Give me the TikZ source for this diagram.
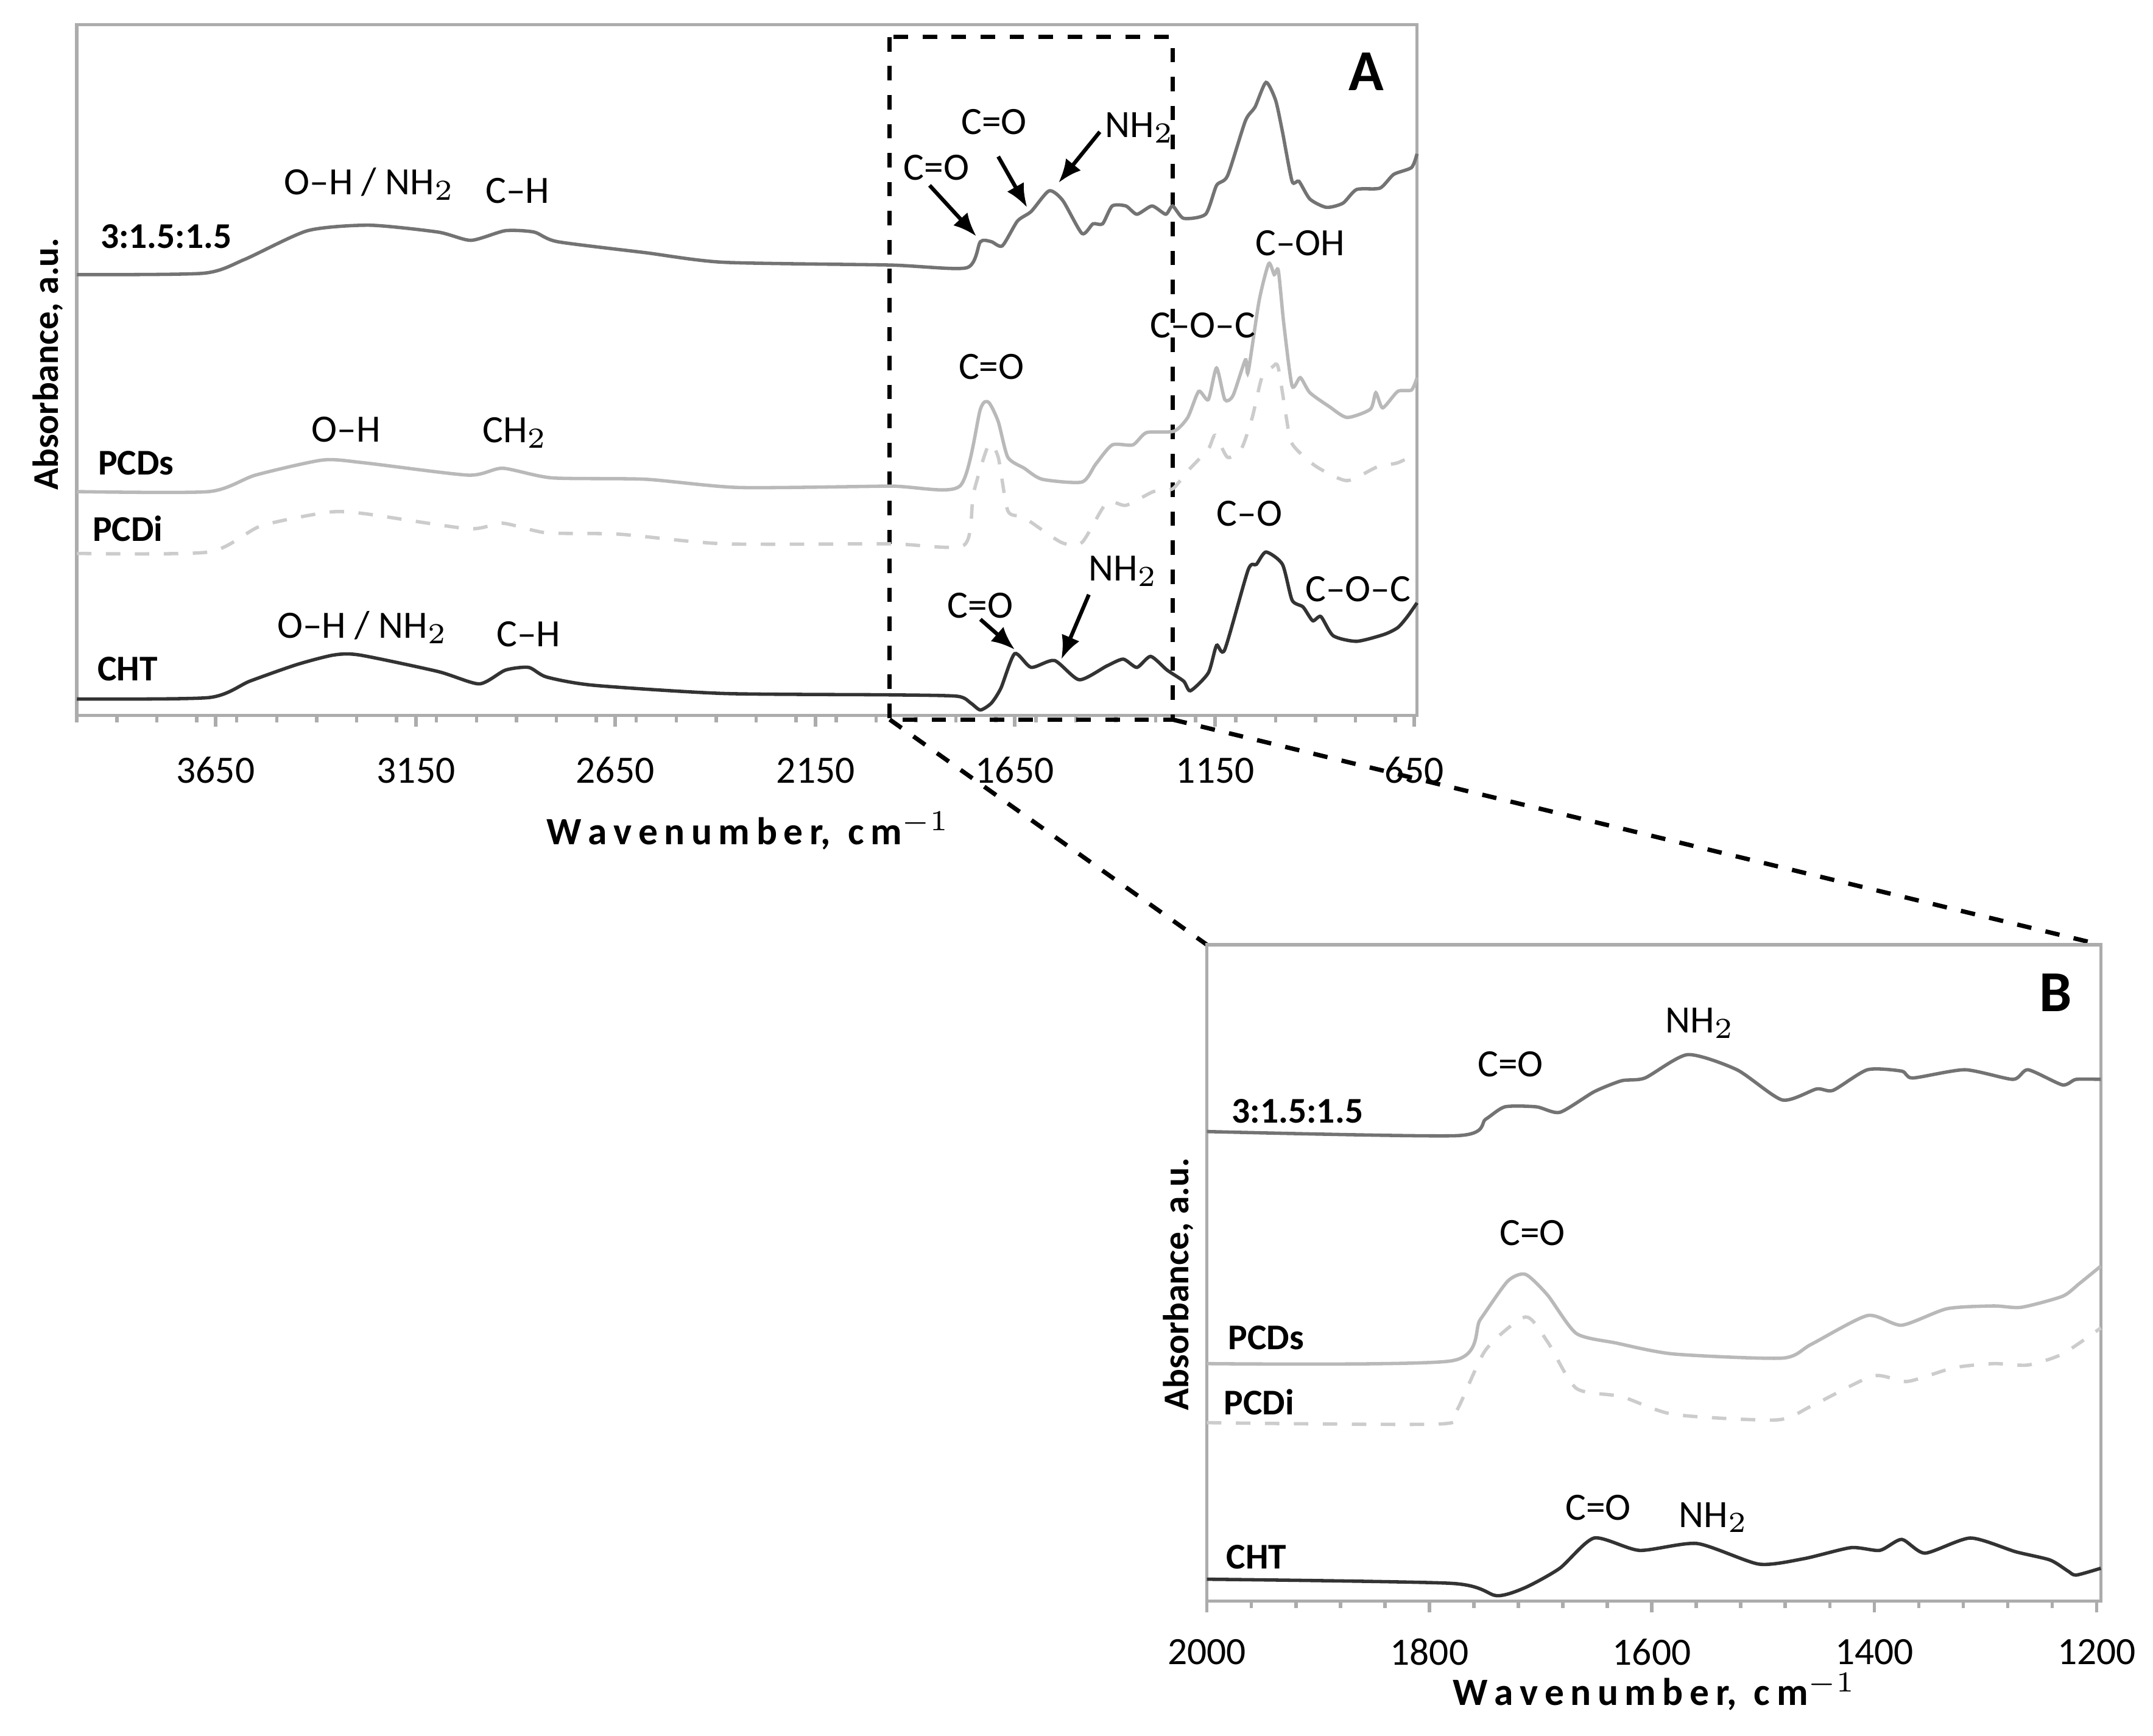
\documentclass[tikz,border=0pt]{standalone}
\usepackage{fontspec}
\setmainfont{Carlito}
\usetikzlibrary{arrows.meta}
\begin{document}
\begin{tikzpicture}[x=0.01cm,y=-0.01cm,
 lab/.style={font=\fontsize{8}{9}\selectfont},
 nm/.style={font=\bfseries\fontsize{7.5}{8}\selectfont},
 tk/.style={font=\fontsize{8}{9}\selectfont},
 frm/.style={draw=gray!65,line width=0.7pt},
 cA/.style={line width=0.7pt,gray!90!black,smooth,tension=0.4},
 cS/.style={line width=0.7pt,gray!55,smooth,tension=0.4},
 cI/.style={line width=0.7pt,gray!40,dashed,smooth,tension=0.4},
 cC/.style={line width=0.7pt,black!80,smooth,tension=0.4},
 arr/.style={-{Latex[length=1.7mm,width=1.4mm]},line width=0.8pt},
 zl/.style={dashed,line width=0.9pt}]
\useasboundingbox (0,0) rectangle (1568,1264);
% Panel A
\draw[frm] (56,18) rectangle (1032,521);
\foreach \i in {0,...,33}{\draw[gray!65,line width=0.7pt] ({56+\i*29.1},521)--++(0,5);}
\foreach \x/\t in {157/3650,303/3150,448/2650,594/2150,739/1650,885/1150,1030/650}{
 \draw[gray!65,line width=0.7pt] (\x,521)--(\x,529);
 \node[tk] (ta\t) at (\x,561) {\t};}
\draw[zl] (648,27) rectangle (854,524);
\draw[cA] plot coordinates {(56,200)(148,199)(178,189)(224,168)(269,164)(319,169)(343,175)(368,168)(389,169)(406,176)(470,184)(527,191)(648,193)(704,195)(714,176)(722,176)(730,179)(741,161)(751,154)(764,139)(774,146)(788,170)(796,163)(803,163)(810,150)(820,150)(828,156)(839,150)(849,156)(854,150)(862,159)(878,156)(886,135)(894,128)(907,88)(914,78)(922,60)(929,73)(934,96)(941,132)(946,132)(954,145)(966,151)(978,148)(988,138)(1005,137)(1015,127)(1028,122)(1032,112)};
\draw[cS] plot coordinates {(56,358)(152,358)(186,346)(235,335)(265,337)(341,346)(366,341)(402,348)(470,349)(538,355)(648,354)(699,354)(714,298)(720,293)(727,307)(734,333)(746,341)(759,349)(788,351)(798,338)(810,324)(825,324)(835,315)(855,314)(865,304)(873,285)(880,291)(886,268)(892,291)(898,288)(907,262)(909,271)(917,219)(924,192)(928,200)(931,197)(935,236)(941,281)(947,275)(954,286)(968,296)(981,304)(998,298)(1002,286)(1007,297)(1018,285)(1028,284)(1032,275)};
\draw[cI] plot coordinates {(56,403)(152,402)(190,383)(239,373)(265,374)(341,385)(366,381)(398,388)(451,389)(527,396)(648,396)(702,397)(709,359)(720,324)(727,333)(734,372)(746,377)(773,395)(788,395)(806,366)(820,368)(840,358)(854,356)(865,343)(880,327)(885,317)(894,333)(904,327)(912,304)(919,275)(927,267)(931,268)(939,317)(944,327)(959,340)(981,350)(1003,340)(1018,337)(1032,330)};
\draw[cC] plot coordinates {(56,509)(152,508)(182,496)(216,484)(243,477)(262,477)(319,489)(349,498)(368,488)(385,486)(398,493)(432,499)(527,505)(648,506)(697,507)(707,512)(714,517)(722,512)(729,501)(739,476)(751,486)(768,481)(786,495)(806,485)(818,480)(828,486)(838,478)(850,488)(862,496)(867,503)(880,490)(886,470)(892,473)(909,415)(915,411)(922,402)(934,411)(941,437)(949,442)(956,452)(962,449)(971,463)(988,467)(1008,462)(1018,457)(1025,449)(1032,439)};
\node[nm] (n1) at (121,172) {3:1.5:1.5};
\node[nm] (n2) at (99,337) {PCDs};
\node[nm] (n3) at (93,385) {PCDi};
\node[nm] (n4) at (93,487) {CHT};
\node[lab] (l1) at (269,134) {O--H / NH$_2$};
\node[lab] (l2) at (377,139) {C--H};
\node[lab] (l3) at (252,313) {O--H};
\node[lab] (l4) at (375,315) {CH$_2$};
\node[lab] (l5) at (264,457) {O--H / NH$_2$};
\node[lab] (l6) at (385,462) {C--H};
\node[lab] (l7) at (682,122) {C=O};
\coordinate (s7) at (677,135); \coordinate (p7) at (711,172);
\draw[arr] (s7) -- (p7);
\node[lab] (l8) at (724,89) {C=O};
\coordinate (s8) at (727,114); \coordinate (p8) at (748,151);
\draw[arr] (s8) -- (p8);
\node[lab] (l9) at (830,93) {NH$_2$};
\coordinate (s9) at (801,96); \coordinate (p9) at (771,133);
\draw[arr] (s9) -- (p9);
\node[lab] (l10) at (722,267) {C=O};
\node[lab] (l11) at (876,237) {C--O--C};
\node[lab] (l12) at (947,177) {C--OH};
\node[lab] (l13) at (910,374) {C--O};
\node[lab] (l14) at (989,429) {C--O--C};
\node[lab] (l15) at (714,441) {C=O};
\coordinate (s15) at (714,451); \coordinate (p15) at (739,473);
\draw[arr] (s15) -- (p15);
\node[lab] (l16) at (818,416) {NH$_2$};
\coordinate (s16) at (793,433); \coordinate (p16) at (773,480);
\draw[arr] (s16) -- (p16);
\node[font=\bfseries\fontsize{12}{13}\selectfont] (A) at (995,52) {A};
\node[nm,rotate=90] (ya) at (35,265) {Absorbance, a.u.};
\node[font=\bfseries\fontsize{8}{9}\selectfont] (xa) at (545,605) {W\,a\,v\,e\,n\,u\,m\,b\,e\,r,\ \ c\,m$^{-1}$};
% zoom lines
\coordinate (z1) at (648,524); \coordinate (z2) at (854,524);
\coordinate (z3) at (879,688); \coordinate (z4) at (1530,688);
\draw[zl] (z1)--(z3); \draw[zl] (z2)--(z4);
% Panel B
\draw[frm] (879,688) rectangle (1530,1166);
\foreach \i in {0,...,20}{\draw[gray!65,line width=0.7pt] ({879+\i*32.4},1166)--++(0,5);}
\foreach \x/\t in {879/2000,1041/1800,1203/1600,1365/1400,1527/1200}{
 \draw[gray!65,line width=0.7pt] (\x,1166)--(\x,1174);
 \node[tk] (tb\t) at (\x,1203) {\t};}
\draw[cA] plot coordinates {(879,824)(1061,827)(1082,815)(1096,806)(1119,806)(1136,810)(1161,795)(1181,787)(1198,785)(1229,768)(1265,779)(1298,801)(1323,793)(1335,794)(1360,779)(1385,780)(1393,785)(1431,779)(1466,786)(1477,779)(1502,790)(1512,786)(1530,786)};
\draw[cS] plot coordinates {(879,993)(1057,991)(1078,961)(1098,933)(1111,928)(1127,943)(1148,971)(1177,978)(1219,986)(1298,989)(1319,979)(1360,958)(1385,965)(1418,953)(1452,951)(1472,952)(1502,944)(1514,935)(1530,922)};
\draw[cI] plot coordinates {(879,1036)(1048,1037)(1061,1027)(1082,983)(1111,959)(1127,977)(1148,1011)(1181,1017)(1219,1030)(1294,1034)(1319,1024)(1364,1002)(1389,1006)(1423,996)(1452,993)(1477,994)(1502,986)(1530,967)};
\draw[cC] plot coordinates {(879,1150)(1057,1153)(1090,1162)(1111,1156)(1136,1142)(1161,1120)(1194,1129)(1236,1124)(1281,1139)(1314,1135)(1348,1127)(1369,1129)(1385,1121)(1402,1131)(1435,1120)(1468,1130)(1493,1136)(1506,1144)(1512,1147)(1530,1142)};
\node[nm] (m1) at (945,809) {3:1.5:1.5};
\node[nm] (m2) at (922,974) {PCDs};
\node[nm] (m3) at (917,1021) {PCDi};
\node[nm] (m4) at (915,1134) {CHT};
\node[lab] (k1) at (1100,775) {C=O};
\node[lab] (k2) at (1238,745) {NH$_2$};
\node[lab] (k3) at (1116,898) {C=O};
\node[lab] (k4) at (1164,1098) {C=O};
\node[lab] (k5) at (1248,1105) {NH$_2$};
\node[font=\bfseries\fontsize{12}{13}\selectfont] (B) at (1497,723) {B};
\node[nm,rotate=90] (yb) at (858,935) {Absorbance, a.u.};
\node[font=\bfseries\fontsize{8}{9}\selectfont] (xb) at (1205,1232) {W\,a\,v\,e\,n\,u\,m\,b\,e\,r,\ \ c\,m$^{-1}$};
\end{tikzpicture}
\end{document}
